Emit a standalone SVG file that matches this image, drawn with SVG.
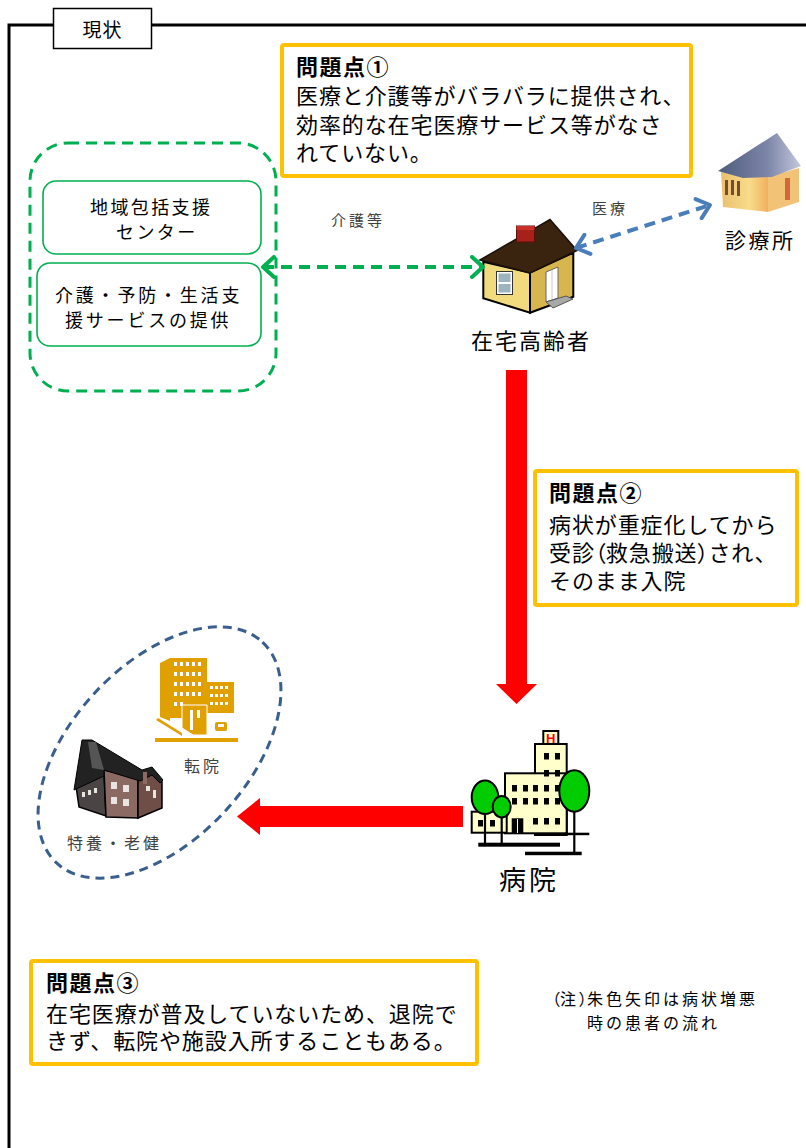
<svg xmlns="http://www.w3.org/2000/svg" width="806" height="1148" viewBox="0 0 806 1148">
  <style>
    .t { font-family: "Liberation Sans", "Noto Sans CJK JP", sans-serif; fill: #000; }
    .lbl { font-family: "Liberation Sans", "Noto Sans CJK JP", sans-serif; fill: #404040; }
    .prob { fill: #fff; stroke: #FFC000; stroke-width: 4; }
    .ptitle { font-weight: bold; letter-spacing: 1.5px; }
    .pbody { font-size: 22px; letter-spacing: 0.9px; }
    .pp { font-feature-settings: "palt" 1; letter-spacing: 0; }
    .gbox { fill: #fff; stroke: #00B050; stroke-width: 1.6; }
    .ol { stroke: #000; stroke-width: 2; }
    .win { fill: #000; }
  </style>
  <defs>
    <marker id="chevG" viewBox="0 0 20 24" refX="17" refY="12" markerWidth="20" markerHeight="24" markerUnits="userSpaceOnUse" orient="auto-start-reverse">
      <path d="M6,2 L17,12 L6,22" fill="none" stroke="#00B050" stroke-width="4" stroke-linecap="round" stroke-linejoin="round"/>
    </marker>
    <marker id="chevB" viewBox="0 0 20 24" refX="17" refY="12" markerWidth="20" markerHeight="24" markerUnits="userSpaceOnUse" orient="auto-start-reverse">
      <path d="M5,2 L17,12 L5,22" fill="none" stroke="#4A7EBB" stroke-width="4" stroke-linecap="round" stroke-linejoin="round"/>
    </marker>
    <linearGradient id="clinicRoof" x1="0" y1="0" x2="1" y2="0">
      <stop offset="0" stop-color="#4E5C7C"/>
      <stop offset="0.6" stop-color="#7D86A8"/>
      <stop offset="1" stop-color="#C4C8DE"/>
    </linearGradient>
    <linearGradient id="clinicWall" x1="0" y1="0" x2="1" y2="0">
      <stop offset="0" stop-color="#E8C070"/>
      <stop offset="0.6" stop-color="#F8DC8A"/>
      <stop offset="1" stop-color="#F0B060"/>
    </linearGradient>
  </defs>

  <!-- outer frame with tab title -->
  <g id="frame">
    <path d="M9,1150 V25 H808" fill="none" stroke="#000" stroke-width="3"/>
    <rect x="53.5" y="8.5" width="98" height="40" fill="#fff" stroke="#000" stroke-width="1.5"/>
    <text class="t" x="102.5" y="37" font-size="19" text-anchor="middle" letter-spacing="1">現状</text>
  </g>

  <!-- problem 1 -->
  <g id="problem1">
    <rect class="prob" x="282" y="45" width="409" height="131" rx="2"/>
    <text class="t" font-size="22">
      <tspan class="ptitle" x="296" y="75">問題点①</tspan>
      <tspan class="pbody" x="296" y="104">医療と介護等がバラバラに提供され、</tspan>
      <tspan class="pbody" x="296" y="132.5">効率的な在宅医療サービス等がなさ</tspan>
      <tspan class="pbody" x="296" y="161">れていない。</tspan>
    </text>
  </g>

  <!-- community care group -->
  <g id="care-group">
    <rect x="30" y="143" width="246" height="248" rx="38" fill="none" stroke="#00B050" stroke-width="3" stroke-dasharray="11 7"/>
  </g>
  <g id="support-center">
    <rect class="gbox" x="43" y="181" width="218" height="73" rx="13"/>
    <text class="t" font-size="18" letter-spacing="2.4">
      <tspan x="90" y="214">地域包括支援</tspan>
      <tspan x="116" y="239">センター</tspan>
    </text>
  </g>
  <g id="care-services">
    <rect class="gbox" x="37" y="263" width="224" height="83" rx="13"/>
    <text class="t" font-size="18" letter-spacing="2.8">
      <tspan x="55" y="302">介護・予防・生活支</tspan>
      <tspan x="65" y="327">援サービスの提供</tspan>
    </text>
  </g>

  <!-- home -->
  <g id="home">
    <polygon points="483.3,261.7 530,272.7 530,312.7 483.3,298.3" fill="#F2DB7E" class="ol"/>
    <polygon points="530,272.7 573.3,252.7 573.3,296.7 530,312.7" fill="#D8B64E" class="ol"/>
    <polygon points="480,260 550,219.5 577,250.5 530,273" fill="#3A2410" stroke="#1A1008" stroke-width="1.5"/>
    <rect x="516.5" y="226" width="18" height="16" fill="#A8201A" stroke="#5A0E0A" stroke-width="1"/>
    <rect x="516.5" y="226" width="18" height="4" fill="#C83028"/>
    <rect x="496.5" y="271.5" width="16" height="23" fill="#fff" stroke="#333" stroke-width="1"/>
    <rect x="498.5" y="273.5" width="12" height="8.5" fill="#9BB4BE"/>
    <rect x="498.5" y="284" width="12" height="8.5" fill="#9BB4BE"/>
    <polygon points="546,272 558,267 558,298 546,302" fill="#fff" stroke="#666" stroke-width="1"/>
    <line x1="552" y1="270" x2="552" y2="300" stroke="#bbb" stroke-width="0.8"/>
    <polygon points="546,302 566,296 573,299 553,308" fill="#A8A8A8" stroke="#555" stroke-width="1"/>
    <text class="t" x="471" y="349" font-size="22" letter-spacing="2">在宅高齢者</text>
  </g>

  <!-- clinic -->
  <g id="clinic">
    <polygon points="721,172 768,177 768,212 723,207" fill="url(#clinicWall)"/>
    <polygon points="768,177 799,168 799,202 768,212" fill="#F2C276"/>
    <rect x="725" y="180" width="3" height="15" fill="#7A4A30"/>
    <rect x="731" y="180" width="3" height="15" fill="#7A4A30"/>
    <rect x="737" y="181" width="3" height="15" fill="#7A4A30"/>
    <rect x="785" y="178" width="5" height="22" fill="#C8502C" opacity="0.8"/>
    <polygon points="718,171 777,133 801,166 772,177 743,178" fill="url(#clinicRoof)"/>
    <text class="t" x="725" y="248" font-size="21" letter-spacing="2.5">診療所</text>
  </g>

  <!-- problem 2 -->
  <g id="problem2">
    <rect class="prob" x="535" y="471" width="262" height="134" rx="2"/>
    <text class="t" font-size="22">
      <tspan class="ptitle" x="549" y="501">問題点②</tspan>
      <tspan class="pbody" x="549" y="532.5">病状が重症化してから</tspan>
      <tspan class="pbody" x="549" y="561">受診<tspan class="pp">（</tspan>救急搬送<tspan class="pp">）</tspan>され、</tspan>
      <tspan class="pbody" x="549" y="589">そのまま入院</tspan>
    </text>
  </g>

  <!-- hospital -->
  <g id="hospital">
    <rect x="543.3" y="731" width="15" height="13" fill="#FFFFCC" class="ol"/>
    <text x="550.8" y="742.5" font-family="Liberation Sans, sans-serif" font-weight="bold" font-size="13" fill="#FF0000" text-anchor="middle">H</text>
    <rect x="535" y="744" width="31.7" height="91" fill="#FFFFCC" class="ol"/>
    <rect x="505" y="773.3" width="61.7" height="60" fill="#FFFFCC" class="ol"/>
    <rect x="471.7" y="811.7" width="35" height="21" fill="#FFFFCC" class="ol"/>
    <g class="win">
      <rect x="544" y="753" width="5" height="6.5"/><rect x="555" y="753" width="5" height="6.5"/>
      <rect x="544" y="770" width="5" height="6.5"/><rect x="555" y="770" width="5" height="6.5"/>
      <rect x="512" y="785" width="5" height="6.5"/><rect x="523" y="785" width="5" height="6.5"/><rect x="533" y="785" width="5" height="6.5"/><rect x="544" y="785" width="5" height="6.5"/><rect x="555" y="785" width="5" height="6.5"/>
      <rect x="512" y="798" width="5" height="6.5"/><rect x="523" y="798" width="5" height="6.5"/><rect x="533" y="798" width="5" height="6.5"/><rect x="544" y="798" width="5" height="6.5"/><rect x="555" y="798" width="5" height="6.5"/>
      <rect x="533" y="818" width="5" height="6.5"/><rect x="544" y="818" width="5" height="6.5"/><rect x="555" y="818" width="5" height="6.5"/>
      <rect x="478" y="820" width="5" height="6.5"/><rect x="490" y="820" width="5" height="6.5"/>
      <rect x="511.7" y="818.3" width="11.6" height="15"/>
    </g>
    <line x1="517.5" y1="819" x2="517.5" y2="833" stroke="#FFFFCC" stroke-width="1"/>
    <line x1="485" y1="812" x2="485" y2="843" stroke="#000" stroke-width="2.2"/>
    <line x1="501.7" y1="815" x2="501.7" y2="843" stroke="#000" stroke-width="2.2"/>
    <ellipse cx="485" cy="797.3" rx="13.3" ry="16.7" fill="#00CC00" class="ol"/>
    <ellipse cx="501.7" cy="806.7" rx="9" ry="10.7" fill="#00CC00" class="ol"/>
    <line x1="574.3" y1="810" x2="574.3" y2="853" stroke="#000" stroke-width="2.2"/>
    <ellipse cx="574.3" cy="791" rx="15" ry="20.7" fill="#00CC00" class="ol"/>
    <rect x="478.3" y="842.7" width="81.7" height="4" fill="#000"/>
    <rect x="525" y="851.7" width="56.7" height="3.5" fill="#000"/>
    <rect x="565" y="832.7" width="24.3" height="2.5" fill="#000"/>
    <text class="t" x="499" y="890" font-size="27" letter-spacing="3">病院</text>
  </g>

  <!-- transfer destinations -->
  <g id="facilities">
    <ellipse cx="159.5" cy="752.5" rx="151" ry="88" transform="rotate(-47 159.5 752.5)" fill="none" stroke="#3A5F8F" stroke-width="3" stroke-dasharray="9 6"/>
  </g>
  <g id="transfer-hospital">
    <polygon points="160,663 170,658 170,721 160,717" fill="#E0A000"/>
    <rect x="170" y="658" width="37" height="60" fill="#E0A000"/>
    <rect x="207" y="682" width="27" height="31" fill="#E0A000"/>
    <g fill="#fff">
      <rect x="174" y="662" width="3" height="4"/><rect x="180" y="662" width="3" height="4"/><rect x="186" y="662" width="3" height="4"/><rect x="192" y="662" width="3" height="4"/><rect x="198" y="662" width="3" height="4"/>
      <rect x="174" y="672" width="3" height="4"/><rect x="180" y="672" width="3" height="4"/><rect x="186" y="672" width="3" height="4"/><rect x="192" y="672" width="3" height="4"/><rect x="198" y="672" width="3" height="4"/>
      <rect x="174" y="682" width="3" height="4"/><rect x="180" y="682" width="3" height="4"/><rect x="186" y="682" width="3" height="4"/><rect x="192" y="682" width="3" height="4"/><rect x="198" y="682" width="3" height="4"/>
      <rect x="174" y="692" width="3" height="4"/><rect x="180" y="692" width="3" height="4"/><rect x="186" y="692" width="3" height="4"/><rect x="192" y="692" width="3" height="4"/><rect x="198" y="692" width="3" height="4"/>
      <rect x="174" y="702" width="3" height="4"/><rect x="180" y="702" width="3" height="4"/>
      <rect x="210" y="686" width="3" height="3"/><rect x="215" y="686" width="3" height="3"/><rect x="220" y="686" width="3" height="3"/><rect x="225" y="686" width="3" height="3"/>
      <rect x="210" y="694" width="3" height="3"/><rect x="215" y="694" width="3" height="3"/><rect x="220" y="694" width="3" height="3"/><rect x="225" y="694" width="3" height="3"/>
      <rect x="210" y="702" width="3" height="3"/><rect x="215" y="702" width="3" height="3"/><rect x="220" y="702" width="3" height="3"/><rect x="225" y="702" width="3" height="3"/>
    </g>
    <polygon points="182,705 207,705 207,735 193,735 182,728" fill="#E0A000" stroke="#fff" stroke-width="1"/>
    <rect x="190" y="710" width="3" height="20" fill="#fff"/>
    <rect x="197" y="710" width="3" height="8" fill="#fff"/>
    <polygon points="158,718 182,733 182,736 156,720" fill="#E0A000"/>
    <rect x="215" y="722" width="12" height="9" rx="2" fill="#E0A000"/>
    <rect x="218" y="724" width="6" height="3" fill="#fff"/>
    <rect x="155" y="738" width="83" height="4" fill="#E0A000"/>
    <text class="lbl" x="184" y="772" font-size="16" letter-spacing="3">転院</text>
  </g>
  <g id="nursing-home">
    <polygon points="76,786 104,774 106,816 79,807" fill="#4A4444" stroke="#000" stroke-width="1.5"/>
    <polygon points="104,770 138,778 138,818 106,817" fill="#8A6A62" stroke="#000" stroke-width="1.5"/>
    <polygon points="138,778 152,771 162,781 162,808 138,818" fill="#6E4E46" stroke="#000" stroke-width="1.5"/>
    <polygon points="74,790 82,740 92,740 142,770 152,767 163,780 160,783 152,775 140,781 104,770 104,776" fill="#222" stroke="#000" stroke-width="1"/>
    <polygon points="88,742 96,742 104,770 92,768" fill="#555"/>
    <rect x="143" y="772" width="4" height="12" fill="#8A6A62"/>
    <g fill="#E8E4E0">
      <rect x="111" y="782" width="6" height="7"/><rect x="123" y="785" width="6" height="7"/>
      <rect x="111" y="797" width="6" height="7"/><rect x="123" y="799" width="6" height="7"/>
      <rect x="146" y="786" width="4" height="5"/><rect x="153" y="790" width="3" height="8"/>
      <rect x="82" y="792" width="3" height="5"/><rect x="88" y="790" width="3" height="5"/><rect x="94" y="788" width="3" height="5"/>
    </g>
    <text class="lbl" x="67" y="849" font-size="16" letter-spacing="3">特養・老健</text>
  </g>

  <!-- connectors -->
  <g id="connectors">
    <path d="M263,267 H483" fill="none" stroke="#00B050" stroke-width="4" stroke-dasharray="11 7" marker-start="url(#chevG)" marker-end="url(#chevG)"/>
    <text class="lbl" x="331" y="226" font-size="15" letter-spacing="3">介護等</text>
    <path d="M576,248 L710,205" fill="none" stroke="#4A7EBB" stroke-width="4" stroke-dasharray="11 7" marker-start="url(#chevB)" marker-end="url(#chevB)"/>
    <text class="lbl" x="592" y="214" font-size="15" letter-spacing="3">医療</text>
    <polygon points="506,370 527,370 527,684 537,684 516.5,704 496,684 506,684" fill="#FF0000"/>
    <polygon points="463,806 260,806 260,798 237,816.5 260,835 260,827 463,827" fill="#FF0000"/>
  </g>

  <!-- problem 3 -->
  <g id="problem3">
    <rect class="prob" x="31" y="961" width="446" height="103" rx="2"/>
    <text class="t" font-size="22">
      <tspan class="ptitle" x="46" y="991">問題点③</tspan>
      <tspan class="pbody" x="46" y="1021.5">在宅医療が普及していないため、退院で</tspan>
      <tspan class="pbody" x="46" y="1049">きず、転院や施設入所することもある。</tspan>
    </text>
  </g>

  <!-- note -->
  <g id="note">
    <text class="t" font-size="16" letter-spacing="3">
      <tspan x="552" y="1005"><tspan class="pp">（</tspan>注<tspan class="pp">）</tspan>朱色矢印は病状増悪</tspan>
      <tspan x="587" y="1029">時の患者の流れ</tspan>
    </text>
  </g>
</svg>
